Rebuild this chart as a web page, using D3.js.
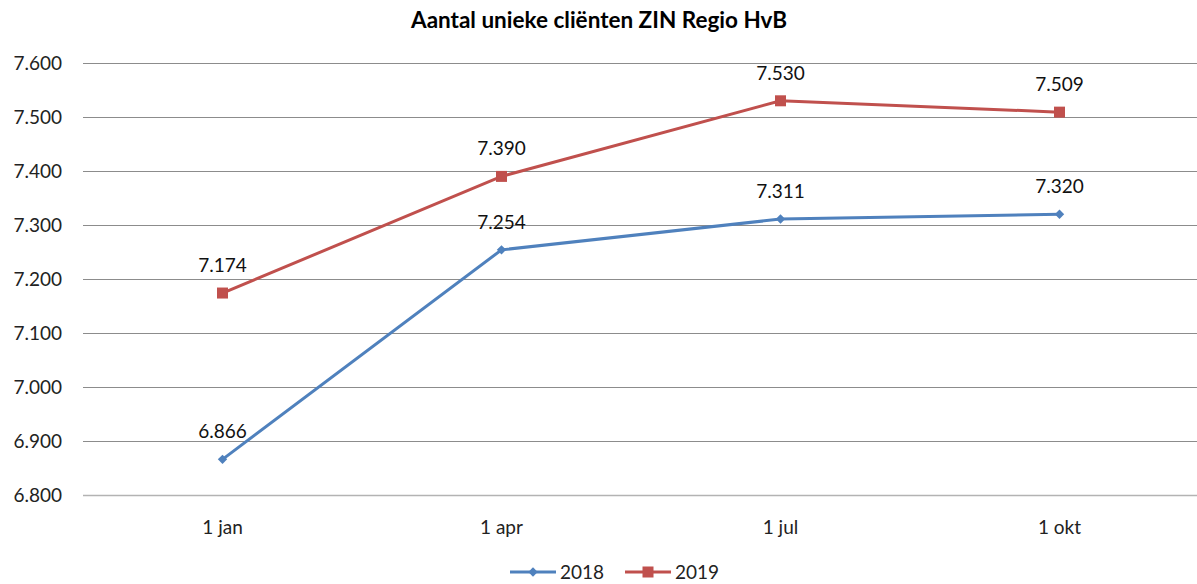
<!DOCTYPE html>
<html>
<head>
<meta charset="utf-8">
<script src="https://cdn.jsdelivr.net/npm/d3@7"></script>
<style>
  body { margin: 0; background: #fff; }
  text { font-family: Lato, "Open Sans", sans-serif; fill: #000; }
</style>
</head>
<body>
<div id="chart"></div>
<script>
'use strict';

const categories = ['1 jan', '1 apr', '1 jul', '1 okt'];
const values2018 = [6866, 7254, 7311, 7320];
const values2019 = [7174, 7390, 7530, 7509];
const seriesNames = ['2018', '2019'];
const yTicks = [6800, 6900, 7000, 7100, 7200, 7300, 7400, 7500, 7600];

const width = 1197, height = 584;
const margin = {top: 63, right: -2, bottom: 89, left: 83};

const fmt = v => d3.format(',.0f')(v).replace(',', '.');

const svg = d3.select('#chart').append('svg')
    .attr('width', width)
    .attr('height', height);

const x = d3.scaleBand()
    .domain(categories)
    .range([margin.left, width - margin.right]);

const y = d3.scaleLinear()
    .domain([6800, 7600])
    .range([height - margin.bottom, margin.top]);

// title
svg.append('text')
   .attr('x', 599)
   .attr('y', 28)
   .attr('text-anchor', 'middle')
   .style('font-size', '22.5px')
   .style('font-weight', 'bold')
   .text('Aantal unieke cliënten ZIN Regio HvB');

// gridlines
svg.append('g')
   .selectAll('line')
   .data(yTicks)
   .join('line')
   .attr('x1', margin.left)
   .attr('x2', width - margin.right)
   .attr('y1', d => Math.round(y(d)) + 0.5)
   .attr('y2', d => Math.round(y(d)) + 0.5)
   .attr('stroke', d => d === 6800 ? '#b3b3b3' : '#8c8c8c')
   .attr('stroke-width', d => d === 6800 ? 1.5 : 1);

// y labels
svg.append('g')
   .selectAll('text')
   .data(yTicks)
   .join('text')
   .attr('x', 62)
   .attr('y', d => y(d))
   .attr('dy', '0.35em')
   .attr('text-anchor', 'end')
   .style('font-size', '19px')
   .style('fill', '#222')
   .text(d => d3.format('.3f')(d / 1000));

// x labels
svg.append('g')
   .selectAll('text')
   .data(categories)
   .join('text')
   .attr('x', d => x(d) + x.bandwidth() / 2)
   .attr('y', 527)
   .attr('dy', '0.35em')
   .attr('text-anchor', 'middle')
   .style('font-size', '19px')
   .style('fill', '#222')
   .text(d => d);

const series = [
    {name: seriesNames[0], values: values2018, color: '#4F81BD', marker: 'diamond'},
    {name: seriesNames[1], values: values2019, color: '#C0504D', marker: 'square'}
];

const line = d3.line()
    .x((d, i) => x(categories[i]) + x.bandwidth() / 2)
    .y(d => y(d));

function drawMarker(g, type, cx, cy, color) {
    if (type === 'square') {
        g.append('rect')
         .attr('x', cx - 5.5)
         .attr('y', cy - 5.5)
         .attr('width', 11)
         .attr('height', 11)
         .attr('fill', color);
    } else {
        g.append('path')
         .attr('d', d3.symbol().type(d3.symbolDiamond2).size(56)())
         .attr('transform', 'translate(' + cx + ',' + cy + ')')
         .attr('fill', color);
    }
}

series.forEach(s => {
    const g = svg.append('g');
    g.append('path')
     .datum(s.values)
     .attr('d', line)
     .attr('fill', 'none')
     .attr('stroke', s.color)
     .attr('stroke-width', 3);
    s.values.forEach((v, i) => {
        const cx = x(categories[i]) + x.bandwidth() / 2;
        drawMarker(g, s.marker, cx, y(v), s.color);
        g.append('text')
         .attr('x', cx)
         .attr('y', y(v) - 21)
         .attr('text-anchor', 'middle')
         .style('font-size', '19px')
         .style('fill', '#111')
         .text(fmt(v));
    });
});

// legend
const legend = svg.append('g');
const legendItems = [{x: 510}, {x: 625}];
series.forEach((s, i) => {
    const lx = legendItems[i].x;
    const ly = 572;
    legend.append('line')
          .attr('x1', lx)
          .attr('x2', lx + 46)
          .attr('y1', ly)
          .attr('y2', ly)
          .attr('stroke', s.color)
          .attr('stroke-width', 3);
    drawMarker(legend, s.marker, lx + 23, ly, s.color);
    legend.append('text')
          .attr('x', lx + 50)
          .attr('y', ly)
          .attr('dy', '0.35em')
          .style('font-size', '19px')
          .style('fill', '#222')
          .text(s.name);
});
</script>
</body>
</html>
